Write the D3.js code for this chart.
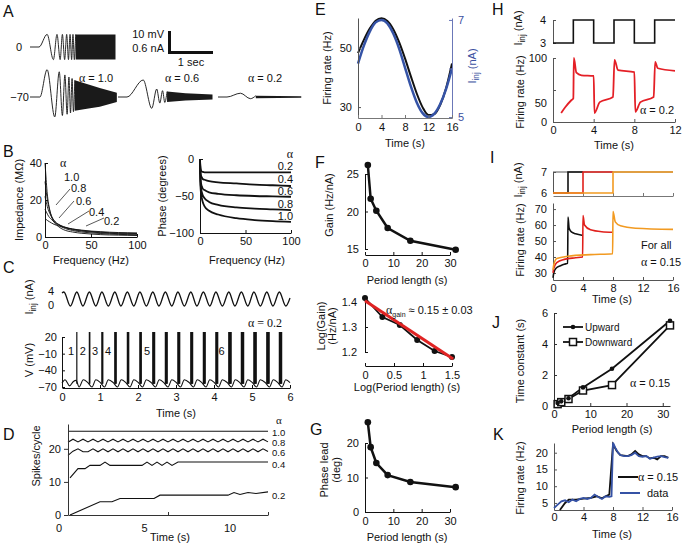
<!DOCTYPE html>
<html><head><meta charset="utf-8">
<script src="https://cdn.jsdelivr.net/npm/d3@7"></script>
<style>body{margin:0;background:#fff}svg{display:block}</style>
</head><body><svg id="c" width="686" height="546"></svg>
<script>
// ================= DATA =================
// A: chirp traces, [time s from trace start, value]
const aStimPeaks = [[0,0],[0.2,0],[0.38,0.36],[0.52,-0.36],[0.6,0.36],[0.67,-0.36],[0.72,0.36],[0.77,-0.36],[0.815,0.36],[0.855,-0.36],[0.89,0.36],[0.925,-0.36],[0.955,0.36],[0.985,-0.36],[1.015,0.36]];
const aStimBand = [[1.015,0.36,-0.36],[1.9,0.36,-0.36]];
const a10Peaks = [[0,0],[0.22,0],[0.38,13],[0.55,-9.5],[0.65,12],[0.72,-8.8],[0.775,10.5],[0.825,-8.2],[0.865,9.5],[0.9,-7.6],[0.935,8.8],[0.965,-7],[0.995,8]];
const a10Band = [[0.995,8,-6.6],[1.3,6,-5.5],[1.55,4.3,-4.6],[1.93,2,-2.4]];
const a06Peaks = [[0,0],[0.2,0],[0.56,8.1],[0.75,-5.4],[0.86,3.8],[0.93,-2.9],[0.99,3],[1.04,-2.6],[1.09,2.6]];
const a06Band = [[1.09,2.6,-2.4],[1.5,1.8,-1.7],[2.1,1.2,-1.2]];
const a02Peaks = [[0,0],[0.2,0],[0.5,1.8],[0.72,-0.8],[0.84,0.6]];
const a02Band = [[0.84,0.6,-0.6],[1.85,0.4,-0.4]];
const aAlphaValues = ["1.0","0.6","0.2"];

// B: impedance & phase vs frequency
const bFreq = [0,1,2,3,5,7,10,15,20,30,40,50,60,70,80,90,100];
const bImp = {
  "1.0":[40,33,26,21,15,11,8,5.5,4,2.7,2,1.6,1.3,1.1,1,0.9,0.8],
  "0.8":[30,26,22,19,14.5,11.5,8.8,6.4,5,3.5,2.7,2.2,1.9,1.6,1.4,1.3,1.2],
  "0.6":[22,19.5,17.5,15.5,13,11,8.8,6.8,5.5,4,3.2,2.7,2.3,2,1.8,1.7,1.6],
  "0.4":[15,14,13,12,10.5,9.5,8,6.6,5.6,4.3,3.5,3,2.6,2.3,2.1,2,1.9],
  "0.2":[10,9.6,9.2,8.8,8.2,7.6,6.8,6,5.3,4.3,3.7,3.2,2.9,2.6,2.4,2.3,2.2]
};
const bPhFreq = [0,0.5,1,2,3,5,10,20,40,60,80,100];
const bPhase = {
  "0.2":[0,-12,-15,-17,-17.5,-18,-18,-18,-18,-18,-18,-18],
  "0.4":[0,-18,-22,-25,-27,-28,-30,-31.5,-33,-34.5,-35.5,-36.5],
  "0.6":[0,-25,-32,-37,-40,-42,-45,-47,-49,-50,-50.5,-51],
  "0.8":[0,-30,-38,-45,-49,-53,-58,-62,-65.5,-67,-68,-69],
  "1.0":[0,-35,-45,-53,-58,-64,-70,-75,-80,-82.5,-84,-85]
};
const bAlphas = ["1.0","0.8","0.6","0.4","0.2"];

// C: sinusoidal current & voltage response
const cStim = [[0,3.7],[0.05,4],[0.22,0],[0.39,4],[0.55,0],[0.72,4],[0.89,0],[1.05,4],[1.22,0],[1.39,4],[1.55,0],[1.72,4],[1.89,0],[2.05,4],[2.22,0],[2.39,4],[2.55,0],[2.72,4],[2.89,0],[3.05,4],[3.22,0],[3.39,4],[3.55,0],[3.72,4],[3.89,0],[4.05,4],[4.22,0],[4.39,4],[4.55,0],[4.72,4],[4.89,0],[5.05,4],[5.22,0],[5.39,4],[5.55,0],[5.72,4],[5.89,0],[6.0,2.3]];
const cBurstTimes = [0.39,0.72,1.05,1.39,1.72,2.05,2.39,2.72,3.05,3.39,3.72,4.05,4.39,4.72,5.05,5.39,5.72];
const cBurstCounts = [1,2,3,4,4,4,5,5,5,5,5,5,6,6,6,6,6];
const cSpikeIsi = 0.012;
const cVsub = [[0,-63],[0.08,-57],[0.2,-68],[0.3,-60],[0.37,-58],
 [0.45,-70],[0.56,-57],[0.68,-62],[0.79,-70],[0.89,-57],[1.01,-62],[1.12,-70],[1.22,-57],[1.35,-62],
 [1.46,-70],[1.56,-57],[1.68,-62],[1.79,-70],[1.89,-57],[2.01,-62],[2.12,-70],[2.22,-57],[2.35,-62],
 [2.46,-70],[2.56,-57],[2.68,-62],[2.79,-70],[2.89,-57],[3.01,-62],[3.12,-70],[3.22,-57],[3.35,-62],
 [3.46,-70],[3.56,-57],[3.68,-62],[3.79,-70],[3.89,-57],[4.01,-62],[4.12,-70],[4.22,-57],[4.35,-62],
 [4.46,-70],[4.56,-57],[4.68,-62],[4.79,-70],[4.89,-57],[5.01,-62],[5.12,-70],[5.22,-57],[5.35,-62],
 [5.46,-70],[5.56,-57],[5.68,-62],[5.79,-70],[5.89,-57],[6.0,-62]];
const cNumLabels = [[0.24,"1"],[0.55,"2"],[0.87,"3"],[1.21,"4"],[2.24,"5"],[4.2,"6"]];

// D: spikes per cycle vs time (time step 0.25 s for zigzag series)
const dStep = 0.25;
const d10 = [[0,25.3],[10,25.3]];
const d08 = [22,22.9,22.1,22.9,22.1,22.9,22.1,22.9,22.1,22.9,22.1,22.9,22.1,22.9,22.1,22.9,22.1,22.9,22.1,22.9,22.1,22.9,22.1,22.9,22.1,22.9,22.1,22.9,22.1,22.9,22.1,22.9,22.1,22.9,22.1,22.9,22.1,22.9,22.1,22.9,22.1];
const d06 = [18,19.3,20,19.1,19.1,20,19.1,20,19.1,20,19.1,20,19.1,20,19.1,20,19.1,20,19.1,20,19.1,20,19.1,20,19.1,20,19.1,20,19.1,20,19.1,20,19.1,20,19.1,20,19.1,20,19.1,20,19.2];
const d04 = [[0.1,11.2],[0.5,14],[0.85,14],[1.1,15],[1.6,15],[1.85,16],[2.1,15],[3.7,15],[3.95,16],[4.2,15],[4.45,16],[4.7,15],[4.95,16],[5.2,15],[5.5,16],[10,16]];
const d02 = [[0.1,0],[1.6,4],[2.2,4],[2.6,5],[4.3,5],[4.6,6],[8,6],[8.3,6.8],[8.6,6.2],[9,6.8],[9.4,6.5],[10,7]];
const dAlphas = ["1.0","0.8","0.6","0.4","0.2"];

// E: firing rate and current over one 16 s period
const eTime = [0,1,2,3,4,5,6,7,8,9,10,11,12,13,14,15,16];
const eRate = [48.3,52.8,56.6,59.3,60.1,59.2,56.4,52,46.5,40.4,34.6,29.9,27.3,27.6,30.8,36.5,44.8];
const eCurrent = [6.1,6.47,6.76,6.95,7.0,6.93,6.72,6.41,6.02,5.63,5.3,5.08,5.0,5.07,5.27,5.58,6.0];

// F: gain vs period
const fPeriod = [1,2,4,8,16,32];
const fGain = [26.2,21.7,20.1,17.8,16.1,14.9];
const fLogPeriod = [0,0.3,0.6,0.9,1.2,1.5];
const fLogGain = [1.416,1.34,1.308,1.248,1.204,1.18];
const fFit = [[0,1.405],[1.52,1.172]];

// G: phase lead vs period
const gPhase = [26,18.8,14.2,10.7,8.7,7.2];

// H: square-wave current and firing rate
const hCurrent = [[0,3],[2,3],[2,4],[4,4],[4,3],[6,3],[6,4],[8,4],[8,3],[10,3],[10,4],[12,4]];
const hRate = [[0.8,14],[1.2,23],[1.8,34],[2.0,37],[2.05,100],[2.3,77],[2.8,73],[4.0,72],[4.08,14],[4.6,31],[5.9,39],[6.05,97],[6.4,81],[8.0,78],[8.1,16],[8.6,31],[9.9,39],[10.05,94],[10.3,84],[12,80]];

// I: step currents and rates
const iSteps = [2,4,8];
const iColors = ["#111111","#e0201c","#f29a21"];
const iRates = [
  [[0,27],[0.1,30],[0.4,33],[1,34.5],[1.5,35.5],[1.95,36],[2.0,65],[2.15,58],[2.5,55.5],[3,54.5],[4,53.5]],
  [[0,30],[0.1,33],[0.5,36.5],[1.5,38.5],[3,39.5],[3.95,40],[4.0,66],[4.2,60],[5,57],[6.5,55.8],[8,55.5]],
  [[0,32],[0.1,35],[0.5,39],[2,40.5],[5,41.5],[7.95,42],[8.0,68.5],[8.3,62],[9,59.5],[11,58],[16,57.3]]
];

// J: time constants vs period
const jPeriod = [1,2,4,8,16,32];
const jUp = [0.19,0.3,0.5,1.2,2.4,5.5];
const jDown = [0.12,0.25,0.45,1.0,1.35,5.2];

// K: model vs data
const kModel = [[0.8,2.5],[1.5,5],[2,6],[3,6],[4,6.3],[5,6.5],[5.8,7],[6.5,6.4],[7,7],[7.5,7.5],[8,22.5],[8.5,20.5],[9,19.3],[10,19],[10.5,19.5],[11,20.5],[11.5,19.5],[12,19],[12.5,19],[13,18.3],[13.5,18.5],[14,18],[14.5,19],[15,19],[15.5,18.5]];
const kData = [[0,3.5],[0.5,4.5],[1,5.5],[1.5,5.8],[2,5.2],[2.5,6],[3,5.5],[3.5,6.2],[4,6.5],[4.5,6.2],[5,6.5],[5.5,7.5],[6,6.8],[6.5,6.2],[7,7],[7.5,6.8],[7.8,7],[8,23],[8.3,21.5],[8.7,20],[9,19.3],[9.5,19],[10,19],[10.5,19.3],[11,20],[11.5,19],[12,18.8],[12.5,19],[13,18.2],[13.5,18.5],[14,18.8],[14.5,19],[15,18.7],[15.5,18.5]];

// ================= DRAWING =================
const FONT = '"Liberation Sans", Arial, Helvetica, sans-serif';
const SERIF = '"Liberation Serif", "Times New Roman", serif';
const svg = d3.select('#c');
const INK = '#111', AX = '#333';
const fmtNum = d3.format('~g');

function txt(g, x, y, s, o = {}) {
  const t = g.append('text').attr('x', x).attr('y', y).text(s)
    .attr('font-size', o.fs || 11).attr('font-family', o.font || FONT)
    .attr('fill', o.fill || INK).attr('text-anchor', o.anchor || 'start');
  if (o.rot) t.attr('transform', `rotate(${o.rot},${x},${y})`);
  return t;
}
function alphaTxt(g, x, y, val, o = {}) {
  const t = g.append('text').attr('x', x).attr('y', y).attr('font-size', o.fs || 11)
    .attr('font-family', FONT).attr('fill', INK).attr('text-anchor', o.anchor || 'start');
  t.append('tspan').attr('font-family', SERIF).attr('font-size', (o.fs || 11) + 1).text('α');
  t.append('tspan').text(' = ' + val);
  return t;
}
function iinj(g, x, y, o = {}) {
  const fs = o.fs || 11;
  const t = g.append('text').attr('x', x).attr('y', y).attr('font-size', fs)
    .attr('font-family', FONT).attr('fill', o.fill || INK).attr('text-anchor', 'middle');
  if (o.rot) t.attr('transform', `rotate(${o.rot},${x},${y})`);
  t.append('tspan').text('I');
  t.append('tspan').attr('font-size', fs * 0.75).attr('dy', 3).text('inj');
  t.append('tspan').attr('dy', -3).text(' (nA)');
  return t;
}
function axis(g, orient, scale, o = {}) {
  const f = { left: d3.axisLeft, right: d3.axisRight, top: d3.axisTop, bottom: d3.axisBottom }[orient];
  const gen = f(scale).tickValues(o.ticks || []).tickSize(o.size == null ? -3 : o.size)
    .tickPadding(o.pad == null ? 3 : o.pad).tickSizeOuter(0).tickFormat(o.fmt || fmtNum);
  const a = g.append('g').attr('transform', `translate(${o.x || 0},${o.y || 0})`).call(gen);
  a.select('.domain').attr('stroke', o.color || AX).attr('stroke-width', o.w || 1);
  a.selectAll('.tick line').attr('stroke', o.color || AX);
  a.selectAll('.tick text').attr('fill', o.tcolor || INK).attr('font-size', o.fs || 11).attr('font-family', FONT);
  if (o.hide) a.selectAll('.tick text').filter(d => o.hide.includes(d)).remove();
  return a;
}
function letter(x, y, s) { txt(svg, x, y, s, { fs: 16 }); }

// ---------- A ----------
(function () {
  const g = svg.append('g');
  letter(3, 17, 'A');
  function chirp(x0, yb, pxPerUnit, peaks, band, w) {
    const xs = d3.scaleLinear().domain([0, 1]).range([x0, x0 + 45]);
    const ys = d3.scaleLinear().domain([0, 1]).range([yb, yb - pxPerUnit]);
    g.append('path').datum(peaks).attr('d', d3.line().x(d => xs(d[0])).y(d => ys(d[1])).curve(d3.curveMonotoneX))
      .attr('fill', 'none').attr('stroke', INK).attr('stroke-width', w || 0.9);
    g.append('path').datum(band).attr('d', d3.area().x(d => xs(d[0])).y0(d => ys(d[2])).y1(d => ys(d[1])))
      .attr('fill', '#1a1a1a');
  }
  chirp(30, 47, 35, aStimPeaks, aStimBand);
  chirp(30, 97, 2.1, a10Peaks, a10Band);
  chirp(118, 97, 2.1, a06Peaks, a06Band);
  chirp(218, 97, 2.1, a02Peaks, a02Band);
  txt(g, 22, 51, '0', { anchor: 'end' });
  txt(g, 29, 101, '−70', { anchor: 'end' });
  [96, 182, 265].forEach((xx, i) => alphaTxt(g, xx, 82, aAlphaValues[i], { anchor: 'middle' }));
  g.append('path').attr('d', 'M169.5,31 V52.5 H213').attr('fill', 'none').attr('stroke', INK).attr('stroke-width', 3);
  txt(g, 164, 38, '10 mV', { anchor: 'end' });
  txt(g, 164, 52, '0.6 nA', { anchor: 'end' });
  txt(g, 191, 66, '1 sec', { anchor: 'middle' });
})();

// ---------- B ----------
(function () {
  const g = svg.append('g');
  letter(3, 157, 'B');
  const x = d3.scaleLinear().domain([0, 100]).range([45, 137]);
  const y = d3.scaleLinear().domain([0, 40]).range([237, 163]);
  bAlphas.forEach(a => {
    g.append('path').datum(bFreq.map((f, i) => [f, bImp[a][i]]))
      .attr('d', d3.line().x(d => x(d[0])).y(d => y(d[1])).curve(d3.curveMonotoneX))
      .attr('fill', 'none').attr('stroke', INK).attr('stroke-width', 0.9);
  });
  axis(g, 'left', y, { ticks: [0, 20, 40], x: 45, color: INK });
  axis(g, 'bottom', x, { ticks: [0, 50, 100], y: 237, color: INK, pad: 4 });
  txt(g, 91, 264, 'Frequency (Hz)', { anchor: 'middle' });
  txt(g, 23, 200, 'Impedance (MΩ)', { anchor: 'middle', rot: -90 });
  txt(g, 60, 167, 'α', { font: SERIF, fs: 12 });
  const lab = [['1.0', 64, 181], ['0.8', 71, 192], ['0.6', 76, 205], ['0.4', 89, 216], ['0.2', 104, 225]];
  lab.forEach(d => txt(g, d[1], d[2], d[0], { fs: 11 }));
  g.append('path').attr('d', 'M56,205 L70,189').attr('stroke', INK).attr('stroke-width', 0.7);
  g.append('path').attr('d', 'M59,218 L74,201').attr('stroke', INK).attr('stroke-width', 0.7);
  g.append('path').attr('d', 'M68,224 L89,211').attr('stroke', INK).attr('stroke-width', 0.7);
  g.append('path').attr('d', 'M86,226 L104,218').attr('stroke', INK).attr('stroke-width', 0.7);

  const x2 = d3.scaleLinear().domain([0, 100]).range([200, 291]);
  const y2 = d3.scaleLinear().domain([-100, 0]).range([233, 159]);
  bAlphas.forEach(a => {
    g.append('path').datum(bPhFreq.map((f, i) => [f, bPhase[a][i]]))
      .attr('d', d3.line().x(d => x2(d[0])).y(d => y2(d[1])).curve(d3.curveMonotoneX))
      .attr('fill', 'none').attr('stroke', INK).attr('stroke-width', 1.8);
  });
  axis(g, 'left', y2, { ticks: [-100, -50, 0], x: 200, color: INK, pad: 6 });
  axis(g, 'bottom', x2, { ticks: [0, 50, 100], y: 233, color: INK, pad: 4 });
  txt(g, 247, 264, 'Frequency (Hz)', { anchor: 'middle' });
  txt(g, 166, 196, 'Phase (degrees)', { anchor: 'middle', rot: -90 });
  txt(g, 290, 158, 'α', { anchor: 'middle', font: SERIF, fs: 12 });
  bAlphas.slice().reverse().forEach((a, i) => txt(g, 293, 170 + i * 12.6, a, { anchor: 'end' }));
})();

// ---------- C ----------
(function () {
  const g = svg.append('g');
  letter(3, 273, 'C');
  const x = d3.scaleLinear().domain([0, 6]).range([62, 290]);
  const ys = d3.scaleLinear().domain([0, 4]).range([306, 292]);
  g.append('path').datum(cStim).attr('d', d3.line().x(d => x(d[0])).y(d => ys(d[1])).curve(d3.curveMonotoneX))
    .attr('fill', 'none').attr('stroke', INK).attr('stroke-width', 1.3);
  txt(g, 54, 295, '4', { anchor: 'end' });
  txt(g, 54, 309, '0', { anchor: 'end' });
  iinj(g, 33, 297, { rot: -90 });
  const yv = d3.scaleLinear().domain([-70, 20]).range([387, 337]);
  g.append('path').datum(cVsub).attr('d', d3.line().x(d => x(d[0])).y(d => yv(d[1])).curve(d3.curveMonotoneX))
    .attr('fill', 'none').attr('stroke', INK).attr('stroke-width', 1.1);
  cBurstTimes.forEach((tb, i) => {
    d3.range(cBurstCounts[i]).forEach(k => {
      const xx = x(tb + k * cSpikeIsi);
      g.append('line').attr('x1', xx).attr('x2', xx).attr('y1', yv(-64)).attr('y2', yv(29))
        .attr('stroke', INK).attr('stroke-width', 1.2);
    });
  });
  cNumLabels.forEach(d => txt(g, x(d[0]), 355, d[1], { anchor: 'middle' }));
  g.append('text').attr('x', 265).attr('y', 327).attr('text-anchor', 'middle')
    .attr('font-family', SERIF).attr('font-size', 12).attr('fill', INK).text('α = 0.2');
  axis(g, 'left', yv, { ticks: [-70, -40, -10, 20], x: 62, color: INK, pad: 5 });
  axis(g, 'bottom', x, { ticks: [0, 1, 2, 3, 4, 5, 6], y: 388, color: INK, pad: 5 });
  txt(g, 176, 417, 'Time (s)', { anchor: 'middle' });
  txt(g, 33, 360, 'V (mV)', { anchor: 'middle', rot: -90 });
})();

// ---------- D ----------
(function () {
  const g = svg.append('g');
  letter(3, 440, 'D');
  const x = d3.scaleLinear().domain([0, 10]).range([68, 268]);
  const xl = d3.scaleLinear().domain([0, 10]).range([59, 230]);
  const y = d3.scaleLinear().domain([0, 27.5]).range([515, 424]);
  const line = d3.line().x(d => x(d[0])).y(d => y(d[1]));
  const series = [d10, d08.map((v, i) => [i * dStep, v]), d06.map((v, i) => [i * dStep, v]), d04, d02];
  series.forEach(s => g.append('path').datum(s).attr('d', line).attr('fill', 'none').attr('stroke', INK).attr('stroke-width', 1.1));
  axis(g, 'left', y, { ticks: [0, 10, 20], x: 68, size: 4, color: AX });
  axis(g, 'bottom', x, { ticks: [5, 10], y: 515, color: AX, fmt: () => '' });
  [0, 5, 10].forEach(v => txt(g, xl(v), 532, String(v), { anchor: 'middle' }));
  txt(g, 170, 541, 'Time (s)', { anchor: 'middle' });
  txt(g, 40, 456, 'Spikes/cycle', { anchor: 'middle', rot: -90 });
  txt(g, 279, 424, 'α', { anchor: 'middle', font: SERIF, fs: 11 });
  [[432, '1.0'], [442, '0.8'], [452, '0.6'], [464, '0.4'], [495, '0.2']].forEach(d => txt(g, 272, d[0] + 3.5, d[1], { fs: 9.5 }));
})();

// ---------- E ----------
(function () {
  const g = svg.append('g');
  letter(315, 15, 'E');
  const x = d3.scaleLinear().domain([0, 16]).range([358, 452]);
  const y = d3.scaleLinear().domain([26.3, 60.2]).range([118, 18]);
  const y2 = d3.scaleLinear().domain([4.98, 7.04]).range([118, 18]);
  g.append('path').datum(eTime.map((t, i) => [t, eRate[i]]))
    .attr('d', d3.line().x(d => x(d[0])).y(d => y(d[1])).curve(d3.curveMonotoneX))
    .attr('fill', 'none').attr('stroke', INK).attr('stroke-width', 2);
  g.append('path').datum(eTime.map((t, i) => [t, eCurrent[i]]))
    .attr('d', d3.line().x(d => x(d[0])).y(d => y2(d[1])).curve(d3.curveMonotoneX))
    .attr('fill', 'none').attr('stroke', '#3553a6').attr('stroke-width', 2.5);
  axis(g, 'left', y, { ticks: [30, 50], x: 358, color: '#555', pad: 6 });
  axis(g, 'right', y2, { ticks: [5, 6, 7], x: 452, color: '#6b78b8', tcolor: '#3a4fa0', pad: 6, hide: [6] });
  axis(g, 'bottom', x, { ticks: [0, 4, 8, 12, 16], y: 118, color: '#777', pad: 5 });
  txt(g, 405, 147, 'Time (s)', { anchor: 'middle' });
  txt(g, 331, 68, 'Firing rate (Hz)', { anchor: 'middle', rot: -90 });
  iinj(g, 476, 66, { rot: -90, fill: '#3a4fa0' });
})();

// ---------- F ----------
(function () {
  const g = svg.append('g');
  letter(315, 168, 'F');
  const x = d3.scaleLinear().domain([0, 30]).range([365, 450]);
  const y = d3.scaleLinear().domain([15, 25]).range([249, 174]);
  axis(g, 'left', y, { ticks: [15, 20, 25], x: 365, color: INK, pad: 6 });
  axis(g, 'bottom', x, { ticks: [0, 10, 20, 30], y: 255, color: INK, pad: 4 });
  const pts = fPeriod.map((p, i) => [p, fGain[i]]);
  g.append('path').datum(pts).attr('d', d3.line().x(d => x(d[0])).y(d => y(d[1])))
    .attr('fill', 'none').attr('stroke', INK).attr('stroke-width', 2.5);
  g.selectAll(null).data(pts).enter().append('circle').attr('cx', d => x(d[0])).attr('cy', d => y(d[1])).attr('r', 3.3).attr('fill', INK);
  txt(g, 407, 284, 'Period length (s)', { anchor: 'middle' });
  txt(g, 333, 205, 'Gain (Hz/nA)', { anchor: 'middle', rot: -90 });

  const xl = d3.scaleLinear().domain([0, 1.5]).range([365, 452]);
  const yl = d3.scaleLinear().domain([1.2, 1.4]).range([352, 302]);
  axis(g, 'left', yl, { ticks: [1.2, 1.3, 1.4], x: 365, color: INK, pad: 8 });
  axis(g, 'bottom', xl, { ticks: [0, 0.5, 1, 1.5], y: 366, color: INK, pad: 5 });
  const lp = fLogPeriod.map((p, i) => [p, fLogGain[i]]);
  g.append('path').datum(lp).attr('d', d3.line().x(d => xl(d[0])).y(d => yl(d[1])))
    .attr('fill', 'none').attr('stroke', INK).attr('stroke-width', 1.8);
  g.selectAll(null).data(lp).enter().append('circle').attr('cx', d => xl(d[0])).attr('cy', d => yl(d[1])).attr('r', 3).attr('fill', INK);
  g.append('path').datum(fFit).attr('d', d3.line().x(d => xl(d[0])).y(d => yl(d[1])))
    .attr('fill', 'none').attr('stroke', '#e02323').attr('stroke-width', 3);
  const t = g.append('text').attr('x', 386).attr('y', 314).attr('font-size', 11).attr('font-family', FONT).attr('fill', INK);
  t.append('tspan').attr('font-family', SERIF).attr('font-size', 12).text('α');
  t.append('tspan').attr('font-size', 7).attr('dy', 3).text('gain');
  t.append('tspan').attr('dy', -3).text(' ≈ 0.15 ± 0.03');
  txt(g, 407, 391, 'Log(Period length) (s)', { anchor: 'middle' });
  txt(g, 325, 326, 'Log(Gain)', { anchor: 'middle', rot: -90 });
  txt(g, 336, 326, '(Hz/nA)', { anchor: 'middle', rot: -90 });
})();

// ---------- G ----------
(function () {
  const g = svg.append('g');
  letter(310, 435, 'G');
  const x = d3.scaleLinear().domain([0, 30]).range([365, 450]);
  const y = d3.scaleLinear().domain([0, 20]).range([512, 443]);
  axis(g, 'left', y, { ticks: [0, 10, 20], x: 365, color: INK, pad: 6 });
  axis(g, 'bottom', x, { ticks: [0, 10, 20, 30], y: 512, color: INK, pad: 5 });
  const pts = fPeriod.map((p, i) => [p, gPhase[i]]);
  g.append('path').datum(pts).attr('d', d3.line().x(d => x(d[0])).y(d => y(d[1])))
    .attr('fill', 'none').attr('stroke', INK).attr('stroke-width', 2.5);
  g.selectAll(null).data(pts).enter().append('circle').attr('cx', d => x(d[0])).attr('cy', d => y(d[1])).attr('r', 3.3).attr('fill', INK);
  txt(g, 407, 541, 'Period length (s)', { anchor: 'middle' });
  txt(g, 328, 470, 'Phase lead', { anchor: 'middle', rot: -90 });
  txt(g, 340, 470, '(deg)', { anchor: 'middle', rot: -90 });
})();

// ---------- H ----------
(function () {
  const g = svg.append('g');
  letter(492, 15, 'H');
  const x = d3.scaleLinear().domain([0, 12]).range([553, 675]);
  const yc = d3.scaleLinear().domain([3, 4]).range([43, 20]);
  axis(g, 'left', yc, { ticks: [3, 4], x: 553, color: '#555', pad: 7 });
  g.append('path').datum(hCurrent).attr('d', d3.line().x(d => x(d[0])).y(d => yc(d[1])))
    .attr('fill', 'none').attr('stroke', INK).attr('stroke-width', 1.6);
  const y = d3.scaleLinear().domain([0, 100]).range([122, 58]);
  axis(g, 'left', y, { ticks: [0, 50, 100], x: 553, color: '#555', fmt: () => '' });
  [[100, 62], [50, 107], [0, 126]].forEach(d => txt(g, 547, d[1], String(d[0]), { anchor: 'end' }));
  axis(g, 'bottom', x, { ticks: [0, 4, 8, 12], y: 122, color: '#555', pad: 4 });
  g.append('path').datum(hRate).attr('d', d3.line().x(d => x(d[0])).y(d => y(d[1])).curve(d3.curveMonotoneX))
    .attr('fill', 'none').attr('stroke', '#e41f26').attr('stroke-width', 1.8);
  alphaTxt(g, 640, 114, '0.2');
  txt(g, 614, 149, 'Time (s)', { anchor: 'middle' });
  txt(g, 524, 92, 'Firing rate (Hz)', { anchor: 'middle', rot: -90 });
  iinj(g, 522, 28, { rot: -90 });
})();

// ---------- I ----------
(function () {
  const g = svg.append('g');
  letter(490, 163, 'I');
  const x = d3.scaleLinear().domain([0, 16]).range([553, 673]);
  const yc = d3.scaleLinear().domain([6, 7]).range([193, 172]);
  g.append('line').attr('x1', 553).attr('x2', 673).attr('y1', 172).attr('y2', 172).attr('stroke', '#555');
  axis(g, 'left', yc, { ticks: [6, 7], x: 553, color: '#555', pad: 6 });
  axis(g, 'bottom', x, { ticks: [4, 8, 12, 16], y: 196, color: '#777', fmt: () => '' });
  iSteps.forEach((s, i) => {
    const end = i < 2 ? iSteps[i + 1] : 16;
    g.append('path').datum([[0, 6], [s, 6], [s, 7], [end, 7]])
      .attr('d', d3.line().x(d => x(d[0])).y(d => yc(d[1])))
      .attr('fill', 'none').attr('stroke', iColors[i]).attr('stroke-width', 1.6);
  });
  const y = d3.scaleLinear().domain([25.6, 73.8]).range([280, 203]);
  axis(g, 'left', y, { ticks: [30, 40, 50, 60, 70], x: 553, color: '#555', pad: 6 });
  axis(g, 'bottom', x, { ticks: [0, 4, 8, 12, 16], y: 280, color: '#555', pad: 4 });
  iRates.forEach((s, i) => g.append('path').datum(s)
    .attr('d', d3.line().x(d => x(d[0])).y(d => y(d[1])).curve(d3.curveMonotoneX))
    .attr('fill', 'none').attr('stroke', iColors[i]).attr('stroke-width', 1.6));
  txt(g, 641, 249, 'For all');
  alphaTxt(g, 641, 266, '0.15');
  txt(g, 612, 303, 'Time (s)', { anchor: 'middle' });
  txt(g, 524, 240, 'Firing rate (Hz)', { anchor: 'middle', rot: -90 });
  iinj(g, 522, 180, { rot: -90 });
})();

// ---------- J ----------
(function () {
  const g = svg.append('g');
  letter(492, 328, 'J');
  const x = d3.scaleLinear().domain([0, 32]).range([554, 670]);
  const y = d3.scaleLinear().domain([0, 6]).range([406, 313]);
  axis(g, 'left', y, { ticks: [0, 2, 4, 6], x: 554, color: '#333', pad: 6 });
  axis(g, 'bottom', x, { ticks: [0, 10, 20, 30], y: 406, color: '#333', pad: 4 });
  const up = jPeriod.map((p, i) => [p, jUp[i]]), dn = jPeriod.map((p, i) => [p, jDown[i]]);
  const ln = d3.line().x(d => x(d[0])).y(d => y(d[1]));
  g.append('path').datum(up).attr('d', ln).attr('fill', 'none').attr('stroke', INK).attr('stroke-width', 1.8);
  g.append('path').datum(dn).attr('d', ln).attr('fill', 'none').attr('stroke', INK).attr('stroke-width', 1.8);
  g.selectAll(null).data(dn).enter().append('rect').attr('x', d => x(d[0]) - 3.5).attr('y', d => y(d[1]) - 3.5)
    .attr('width', 7).attr('height', 7).attr('fill', 'white').attr('stroke', INK).attr('stroke-width', 1.5);
  g.selectAll(null).data(up).enter().append('circle').attr('cx', d => x(d[0])).attr('cy', d => y(d[1])).attr('r', 2.3).attr('fill', INK);
  g.append('line').attr('x1', 563).attr('x2', 583).attr('y1', 327).attr('y2', 327).attr('stroke', INK).attr('stroke-width', 1.8);
  g.append('circle').attr('cx', 573).attr('cy', 327).attr('r', 2.3).attr('fill', INK);
  txt(g, 585, 331, 'Upward', { fs: 10 });
  g.append('line').attr('x1', 563).attr('x2', 583).attr('y1', 342).attr('y2', 342).attr('stroke', INK).attr('stroke-width', 1.8);
  g.append('rect').attr('x', 569.5).attr('y', 338.5).attr('width', 7).attr('height', 7).attr('fill', 'white').attr('stroke', INK).attr('stroke-width', 1.5);
  txt(g, 585, 346, 'Downward', { fs: 10 });
  alphaTxt(g, 630, 387, '0.15');
  txt(g, 612, 433, 'Period length (s)', { anchor: 'middle' });
  txt(g, 524, 361, 'Time constant (s)', { anchor: 'middle', rot: -90 });
})();

// ---------- K ----------
(function () {
  const g = svg.append('g');
  letter(493, 440, 'K');
  const x = d3.scaleLinear().domain([0, 16]).range([554, 672]);
  const y = d3.scaleLinear().domain([2.9, 22.9]).range([510, 443]);
  axis(g, 'left', y, { ticks: [5, 10, 15, 20], x: 554, color: '#555', pad: 6 });
  axis(g, 'bottom', x, { ticks: [0, 4, 8, 12, 16], y: 510, color: '#555', pad: 3 });
  const ln = d3.line().x(d => x(d[0])).y(d => y(Math.max(d[1], 2.9)));
  g.append('path').datum(kModel).attr('d', ln).attr('fill', 'none').attr('stroke', INK).attr('stroke-width', 1.8);
  g.append('path').datum(kData).attr('d', ln).attr('fill', 'none').attr('stroke', '#3552a5').attr('stroke-width', 1.8);
  g.append('line').attr('x1', 618).attr('x2', 638).attr('y1', 477).attr('y2', 477).attr('stroke', INK).attr('stroke-width', 2);
  alphaTxt(g, 638, 481, '0.15');
  g.append('line').attr('x1', 620).attr('x2', 640).attr('y1', 493).attr('y2', 493).attr('stroke', '#3552a5').attr('stroke-width', 2);
  txt(g, 647, 497, 'data');
  txt(g, 612, 538, 'Time (s)', { anchor: 'middle' });
  txt(g, 524, 478, 'Firing rate (Hz)', { anchor: 'middle', rot: -90 });
})();
</script></body></html>
